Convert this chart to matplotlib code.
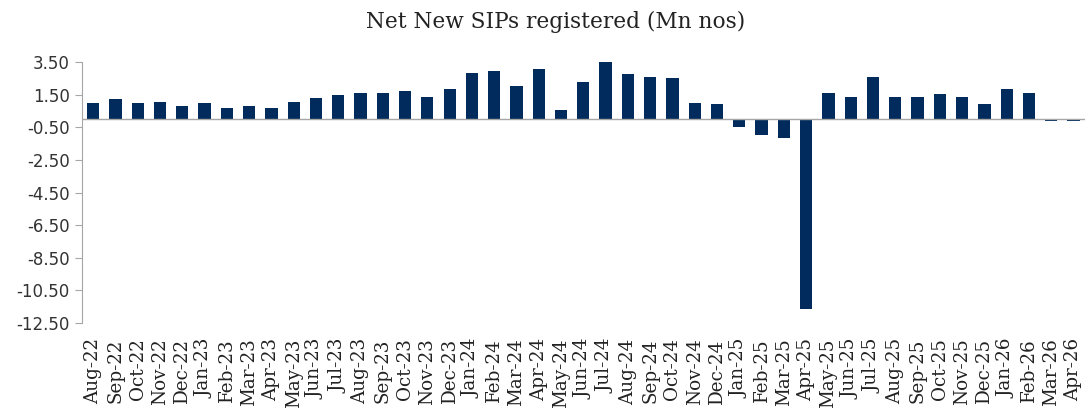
import numpy as np
import matplotlib
matplotlib.use("Agg")
import matplotlib.pyplot as plt

plt.rcParams['axes.unicode_minus'] = False

# monthly net new SIPs registered (Mn nos)
months = ['Aug-22', 'Sep-22', 'Oct-22', 'Nov-22', 'Dec-22', 'Jan-23', 'Feb-23', 'Mar-23',
          'Apr-23', 'May-23', 'Jun-23', 'Jul-23', 'Aug-23', 'Sep-23', 'Oct-23', 'Nov-23',
          'Dec-23', 'Jan-24', 'Feb-24', 'Mar-24', 'Apr-24', 'May-24', 'Jun-24', 'Jul-24',
          'Aug-24', 'Sep-24', 'Oct-24', 'Nov-24', 'Dec-24', 'Jan-25', 'Feb-25', 'Mar-25',
          'Apr-25', 'May-25', 'Jun-25', 'Jul-25', 'Aug-25', 'Sep-25', 'Oct-25', 'Nov-25',
          'Dec-25', 'Jan-26', 'Feb-26', 'Mar-26', 'Apr-26']
net_sips = [1.00, 1.23, 1.00, 1.06, 0.83, 1.00, 0.67, 0.83,
            0.67, 1.06, 1.31, 1.48, 1.63, 1.63, 1.71, 1.38,
            1.85, 2.83, 2.92, 2.02, 3.08, 0.58, 2.27, 3.54,
            2.75, 2.58, 2.50, 1.00, 0.92, -0.50, -0.98, -1.15,
            -11.65, 1.63, 1.38, 2.58, 1.38, 1.38, 1.54, 1.38,
            0.92, 1.85, 1.63, -0.12, -0.12]
yticks = [3.5, 1.5, -0.5, -2.5, -4.5, -6.5, -8.5, -10.5, -12.5]

fig = plt.figure(figsize=(10.89, 4.08), dpi=100)
ax = fig.add_axes([0.0753, 0.2083, 0.9207, 0.6397])

x = np.arange(len(months))
ax.bar(x, net_sips, width=0.55, color='#002B5C', zorder=2)
ax.axhline(0, color='#A6A6A6', linewidth=1.0, zorder=3)

ax.set_xlim(-0.5, len(months) - 0.5)
ax.set_ylim(-12.5, 3.5)
ax.set_yticks(yticks)
ax.set_yticklabels([f'{v:.2f}' for v in yticks], fontsize=12, family='DejaVu Sans', color='#333333')
ax.set_xticks(x)
ax.set_xticklabels(months, rotation=90, fontsize=13.2, family='DejaVu Serif', color='#222222')
ax.tick_params(axis='x', length=0, pad=11)
ax.tick_params(axis='y', length=5, color='#A6A6A6', pad=4)

for s in ['top', 'right', 'bottom']:
    ax.spines[s].set_visible(False)
ax.spines['left'].set_color('#A6A6A6')

fig.text(0.51, 0.945, 'Net New SIPs registered (Mn nos)', ha='center', va='center',
         fontsize=15.6, family='DejaVu Serif', color='#222222')

plt.savefig('out.png', dpi=100)
